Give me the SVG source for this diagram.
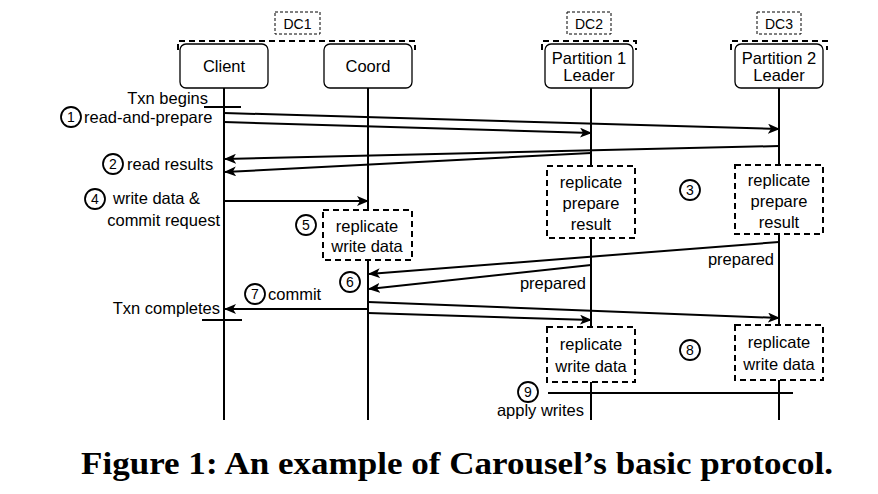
<svg xmlns="http://www.w3.org/2000/svg" width="878" height="494" viewBox="0 0 878 494">
<defs>
<marker id="ah" markerWidth="12" markerHeight="10" refX="11" refY="5" orient="auto" markerUnits="userSpaceOnUse"><path d="M0,0 L12,5 L0,10 L3,5 Z" fill="#000"/></marker>
<style>
text{font-family:"Liberation Sans",Arial,sans-serif;font-size:16.5px;fill:#000}
.nd{fill:#fff;stroke:#000;stroke-width:1.3}
.dc{fill:#fff;stroke:#000;stroke-width:1;stroke-dasharray:3,2}
.br{fill:none;stroke:#000;stroke-width:2;stroke-dasharray:6,4}
.db{fill:#fff;stroke:#000;stroke-width:2;stroke-dasharray:6,4}
.ln{stroke:#000;stroke-width:2;fill:none}
.ar{stroke:#000;stroke-width:2;fill:none;marker-end:url(#ah)}
.c{fill:#fff;stroke:#000;stroke-width:1.8}
.cn{font-size:14px;text-anchor:middle}
.m{text-anchor:middle}
.e{text-anchor:end}
</style>
</defs>
<g id="lifelines">
<line class="ln" x1="224" y1="88" x2="224" y2="420"/>
<line class="ln" x1="368" y1="88" x2="368" y2="420"/>
<line class="ln" x1="591" y1="88" x2="591" y2="420"/>
<line class="ln" x1="779" y1="88" x2="779" y2="420"/>
<line class="ln" x1="204" y1="107" x2="241" y2="107"/>
<line class="ln" x1="202" y1="320" x2="242" y2="320"/>
</g>
<g id="dc1"><rect class="dc" x="275" y="12" width="45" height="22"/><text class="m" x="297.5" y="29" style="font-size:14px">DC1</text><path class="br" d="M178,50 V41 H415 V50"/></g>
<g id="dc2"><rect class="dc" x="567" y="12" width="44" height="22"/><text class="m" x="589" y="29" style="font-size:14px">DC2</text><path class="br" d="M542,50 V41 H636 V50"/></g>
<g id="dc3"><rect class="dc" x="757" y="12" width="44" height="22"/><text class="m" x="779" y="29" style="font-size:14px">DC3</text><path class="br" d="M731,50 V41 H827 V50"/></g>
<g id="client"><rect class="nd" x="180" y="44" width="88" height="44" rx="6"/><text class="m" x="224" y="72">Client</text></g>
<g id="coord"><rect class="nd" x="324" y="44" width="88" height="44" rx="6"/><text class="m" x="368" y="72">Coord</text></g>
<g id="p1"><rect class="nd" x="545" y="44" width="88" height="44" rx="6"/><text class="m" x="589" y="64">Partition 1</text><text class="m" x="589" y="81">Leader</text></g>
<g id="p2"><rect class="nd" x="735" y="44" width="88" height="44" rx="6"/><text class="m" x="779" y="64">Partition 2</text><text class="m" x="779" y="81">Leader</text></g>
<g id="connectors">
<line class="ar" x1="224" y1="113" x2="779" y2="129"/>
<line class="ar" x1="224" y1="122" x2="591" y2="133"/>
<line class="ar" x1="779" y1="146" x2="225" y2="159"/>
<line class="ar" x1="591" y1="153" x2="225" y2="172"/>
<line class="ar" x1="224" y1="201" x2="368" y2="201"/>
<line class="ar" x1="779" y1="242" x2="369" y2="274"/>
<line class="ar" x1="591" y1="265" x2="369" y2="289"/>
<line class="ar" x1="368" y1="309" x2="225" y2="309"/>
<line class="ar" x1="368" y1="302" x2="779" y2="318"/>
<line class="ar" x1="368" y1="313" x2="591" y2="320"/>
<line class="ln" x1="548" y1="393" x2="793" y2="393"/>
</g>
<g id="rep-coord"><rect class="db" x="323" y="210" width="89" height="50"/><text class="m" x="367" y="232">replicate</text><text class="m" x="367" y="252">write data</text></g>
<g id="rep-p1-prep"><rect class="db" x="547" y="166" width="88" height="72"/><text class="m" x="591" y="188">replicate</text><text class="m" x="591" y="209">prepare</text><text class="m" x="591" y="230">result</text></g>
<g id="rep-p2-prep"><rect class="db" x="735" y="165" width="88" height="69"/><text class="m" x="779" y="186">replicate</text><text class="m" x="779" y="207">prepare</text><text class="m" x="779" y="228">result</text></g>
<g id="rep-p1-write"><rect class="db" x="547" y="327" width="88" height="55"/><text class="m" x="591" y="350">replicate</text><text class="m" x="591" y="372">write data</text></g>
<g id="rep-p2-write"><rect class="db" x="735" y="325" width="88" height="55"/><text class="m" x="779" y="348">replicate</text><text class="m" x="779" y="370">write data</text></g>
<g id="labels">
<text class="e" x="208" y="104">Txn begins</text>
<circle class="c" cx="71" cy="117" r="10"/><text class="cn" x="71" y="122">1</text>
<text x="84" y="123">read-and-prepare</text>
<circle class="c" cx="113" cy="164" r="10"/><text class="cn" x="113" y="169">2</text>
<text x="127" y="170">read results</text>
<circle class="c" cx="95" cy="199" r="10"/><text class="cn" x="95" y="204">4</text>
<text x="113" y="204">write data &amp;</text>
<text class="e" x="220" y="226">commit request</text>
<circle class="c" cx="306" cy="225" r="10"/><text class="cn" x="306" y="230">5</text>
<circle class="c" cx="690" cy="190" r="10"/><text class="cn" x="690" y="195">3</text>
<text class="e" x="774" y="265">prepared</text>
<text class="e" x="586" y="289">prepared</text>
<circle class="c" cx="350" cy="282" r="10"/><text class="cn" x="350" y="287">6</text>
<circle class="c" cx="255" cy="294" r="10"/><text class="cn" x="255" y="299">7</text>
<text x="268" y="300">commit</text>
<text class="e" x="220" y="314">Txn completes</text>
<circle class="c" cx="690" cy="350" r="10"/><text class="cn" x="690" y="355">8</text>
<circle class="c" cx="528" cy="392" r="10"/><text class="cn" x="528" y="397">9</text>
<text class="e" x="584" y="416">apply writes</text>
</g>
<text x="457" y="474" text-anchor="middle" textLength="752" lengthAdjust="spacingAndGlyphs" style="font-family:'Liberation Serif','Times New Roman',serif;font-size:32px;font-weight:bold">Figure 1: An example of Carousel’s basic protocol.</text>
</svg>
